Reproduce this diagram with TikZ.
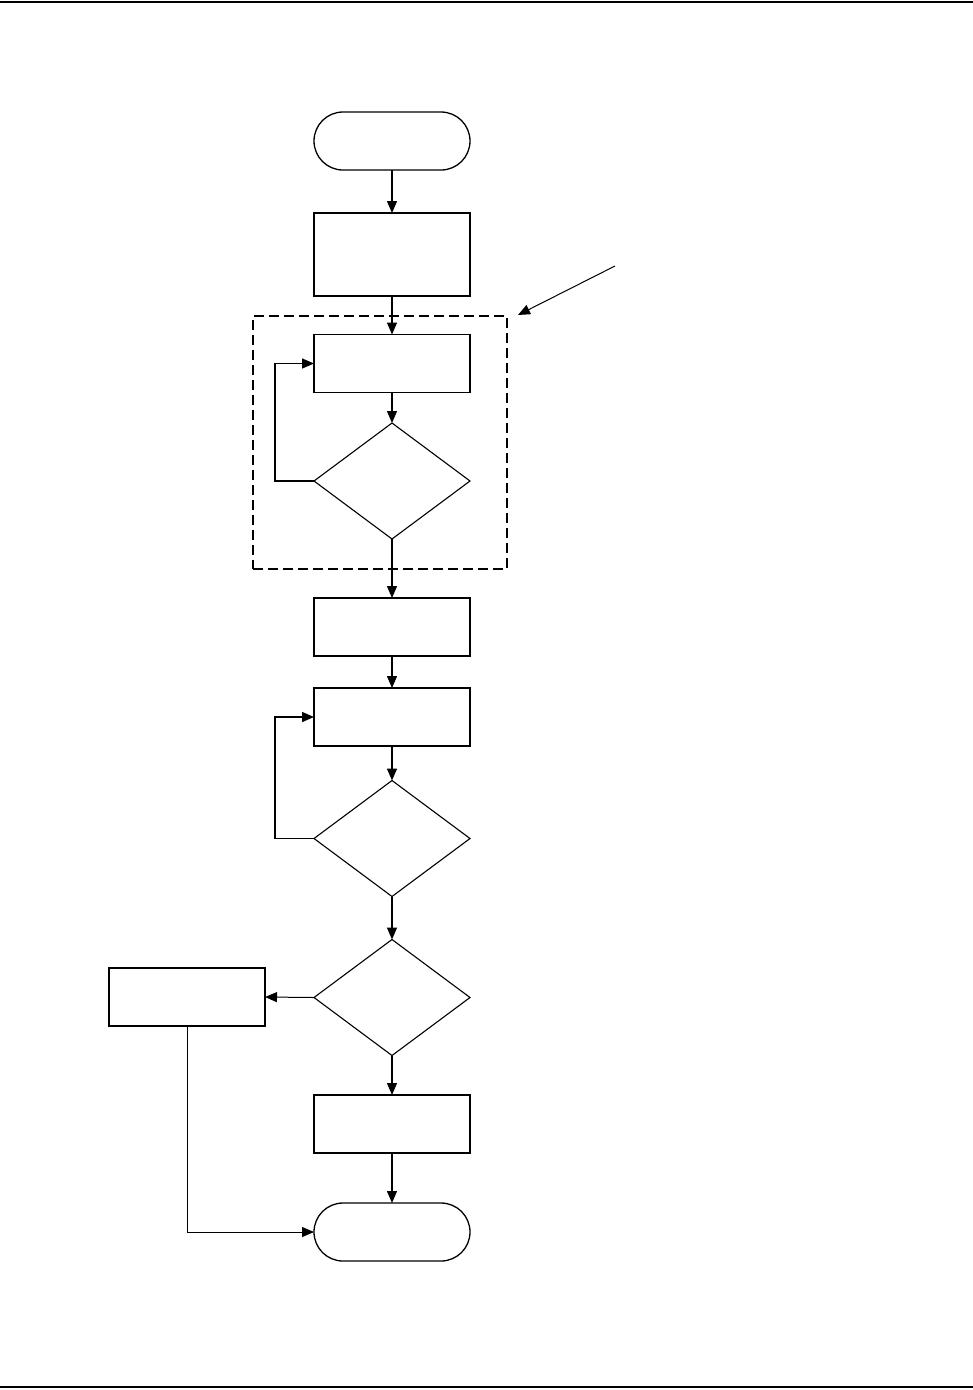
\documentclass[tikz,border=0pt]{standalone}
\usetikzlibrary{shapes.geometric,arrows.meta}
\begin{document}
\begin{tikzpicture}[x=1pt,y=-1pt,
  every node/.style={inner sep=0pt,outer sep=0pt},
  procbox/.style={draw,line width=1.3pt,minimum width=156pt,minimum height=58pt},
  termbox/.style={draw,line width=1.3pt,minimum width=156pt,minimum height=58pt,rounded corners=29pt},
  decbox/.style={draw,diamond,line width=1.1pt,aspect=1.345,minimum width=156pt,minimum height=116pt},
  flow/.style={line width=1.4pt,-{Triangle[length=12pt,width=10pt]}},
  thinflow/.style={line width=1pt,-{Triangle[length=12pt,width=10pt]}}]
\useasboundingbox (0,0) rectangle (973,1390);
% page rules
\draw[line width=2pt] (0,1.5) coordinate (t1) -- (973,1.5) coordinate (t2);
\draw[line width=2.4pt] (0,1387) coordinate (b1) -- (973,1387) coordinate (b2);
% nodes
\node[termbox] (start) at (392,141) {};
\node[procbox,minimum height=83pt] (p1) at (392,254.5) {};
\node[procbox] (p2) at (392,363.5) {};
\node[decbox] (d1) at (392,481) {};
\node[procbox] (p3) at (392,627) {};
\node[procbox] (p4) at (392,717) {};
\node[decbox] (d2) at (392,838.5) {};
\node[decbox] (d3) at (392,997.5) {};
\node[procbox] (side) at (187,997) {};
\node[procbox] (p5) at (392,1124) {};
\node[termbox] (stop) at (392,1232) {};
% dashed group
\node[draw,line width=1.1pt,dash pattern=on 10pt off 5pt,minimum width=254pt,minimum height=253pt] (grp) at (380,442.5) {};
\coordinate (annA) at (615,266);
\coordinate (annB) at (518,315);
% connectors
\draw[flow] (start) -- (p1);
\draw[flow] (p1) -- (p2);
\draw[flow] (p2) -- (d1);
\draw[flow] (d1.west) -- (275,481) |- (p2.west);
\draw[flow] (d1) -- (p3);
\draw[flow] (p3) -- (p4);
\draw[flow] (p4) -- (d2);
\draw[flow] (d2.west) -- (275,838.5) |- (p4.west);
\draw[flow] (d2) -- (d3);
\draw[thinflow] (d3.west) -- (side.east);
\draw[flow] (d3) -- (p5);
\draw[flow] (p5) -- (stop);
\draw[thinflow] (side.south) |- (stop.west);
\draw[thinflow] (annA) -- (annB);
\end{tikzpicture}
\end{document}
